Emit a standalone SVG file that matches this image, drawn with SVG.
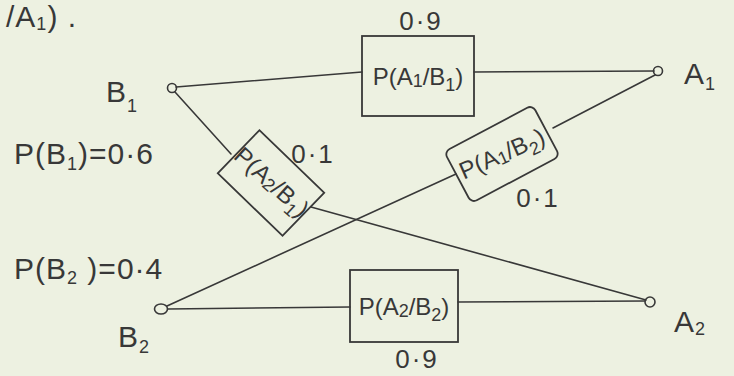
<svg xmlns="http://www.w3.org/2000/svg" width="734" height="376" viewBox="0 0 734 376">
<style>
.ink{fill:none;stroke:#383838;stroke-width:1.6;stroke-linecap:round;stroke-linejoin:round}
.box{fill:none;stroke:#383838;stroke-width:1.8}
.t{font-family:"Liberation Sans",Arial,sans-serif;fill:#383838;font-size:30px;letter-spacing:1px}
.b{font-family:"Liberation Sans",Arial,sans-serif;fill:#383838;font-size:24px}
.n{font-family:"Liberation Sans",Arial,sans-serif;fill:#383838;font-size:26px;letter-spacing:2px}
.s{font-size:18px}
</style>
<rect width="734" height="376" fill="#edf1e1"/>
<text class="t" x="6" y="27" font-size="24">/A<tspan class="s" font-size="16" dy="3">1</tspan><tspan dy="-3">) .</tspan></text>
<g id="connectors">
<line class="ink" x1="176" y1="87" x2="362" y2="72"/>
<line class="ink" x1="474" y1="72" x2="654" y2="71"/>
<line class="ink" x1="175" y1="92" x2="231" y2="154"/>
<line class="ink" x1="311" y1="207" x2="646" y2="300"/>
<line class="ink" x1="167" y1="306" x2="456" y2="174"/>
<line class="ink" x1="553" y1="128" x2="655" y2="75"/>
<line class="ink" x1="168" y1="309" x2="350" y2="307"/>
<line class="ink" x1="458" y1="302" x2="645" y2="301"/>
</g>
<g id="B1">
<circle class="ink" cx="172" cy="88" r="4.5"/>
<text class="t" x="106" y="102">B<tspan class="s" dy="10">1</tspan></text>
<text class="t" x="14" y="164">P(B<tspan class="s" dy="6">1</tspan><tspan dy="-6">)=0·6</tspan></text>
</g>
<g id="B2">
<ellipse class="ink" cx="161" cy="309" rx="6.5" ry="5"/>
<text class="t" x="118" y="347">B<tspan class="s" dy="6">2</tspan></text>
<text class="t" x="14" y="279">P(B<tspan class="s" dy="5">2</tspan><tspan dy="-5"> )=0·4</tspan></text>
</g>
<g id="A1">
<circle class="ink" cx="658" cy="71" r="4.5"/>
<text class="t" x="684" y="84">A<tspan class="s" dy="6">1</tspan></text>
</g>
<g id="A2">
<circle class="ink" cx="650" cy="302" r="5"/>
<text class="t" x="674" y="332">A<tspan class="s" dy="3">2</tspan></text>
</g>
<g id="P_A1_B1">
<rect class="box" x="362" y="36" width="112" height="80"/>
<text class="b" x="418" y="85" text-anchor="middle">P(A<tspan class="s" dy="2">1</tspan><tspan dy="-2">/B</tspan><tspan class="s" dy="6">1</tspan><tspan dy="-6">)</tspan></text>
<text class="n" x="421" y="30" text-anchor="middle">0·9</text>
</g>
<g id="P_A2_B1">
<rect class="box" x="226" y="153" width="90" height="60" transform="rotate(44 271 183)"/>
<text class="b" x="271" y="190" text-anchor="middle" font-size="21" transform="rotate(42 271 183)">P(A<tspan class="s" font-size="15" dy="2">2</tspan><tspan dy="-2">/B</tspan><tspan class="s" font-size="15" dy="6">1</tspan><tspan dy="-6">)</tspan></text>
<text class="n" x="313" y="163" text-anchor="middle">0·1</text>
</g>
<g id="P_A1_B2">
<rect class="box" x="452" y="125" width="100" height="58" rx="6" transform="rotate(-28 502 154)"/>
<text class="b" x="502" y="162" text-anchor="middle" font-size="22" transform="rotate(-24 502 154)">P(A<tspan class="s" font-size="16" dy="2">1</tspan><tspan dy="-2">/B</tspan><tspan class="s" font-size="16" dy="6">2</tspan><tspan dy="-6">)</tspan></text>
<text class="n" x="538" y="207" text-anchor="middle">0·1</text>
</g>
<g id="P_A2_B2">
<rect class="box" x="350" y="270" width="108" height="72"/>
<text class="b" x="404" y="315" text-anchor="middle">P(A<tspan class="s" dy="2">2</tspan><tspan dy="-2">/B</tspan><tspan class="s" dy="6">2</tspan><tspan dy="-6">)</tspan></text>
<text class="n" x="417" y="368" text-anchor="middle" font-size="25">0·9</text>
</g>
</svg>
